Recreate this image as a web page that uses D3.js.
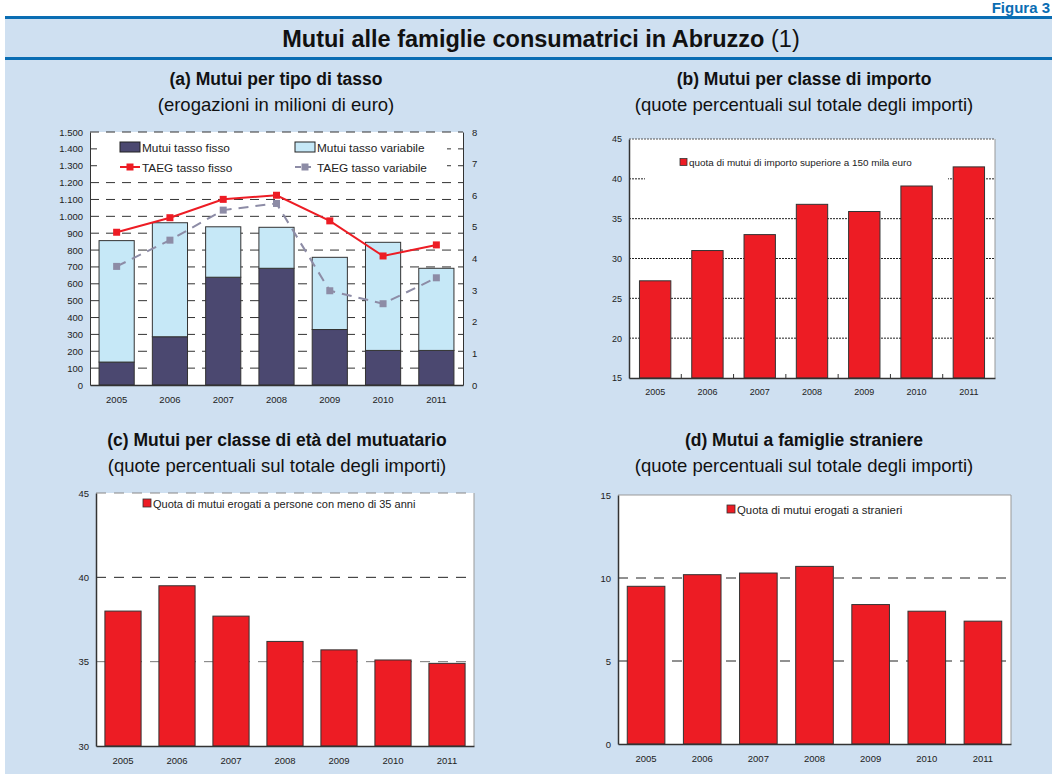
<!DOCTYPE html>
<html>
<head>
<meta charset="utf-8">
<script src="https://cdn.jsdelivr.net/npm/d3@7"></script>
<style>
  body { margin: 0; background: #fff; }
  svg { display: block; font-family: "Liberation Sans", Arial, sans-serif; }
  .tick text { fill: #222; }
</style>
</head>
<body>
<script>
// dati
var years = ["2005", "2006", "2007", "2008", "2009", "2010", "2011"];
var mutuiFisso = [136, 286, 639, 692, 329, 205, 205];
var mutuiVariabile = [720, 676, 299, 243, 428, 641, 487];
var taegFisso = [4.83, 5.29, 5.87, 6.0, 5.19, 4.08, 4.43];
var taegVariabile = [3.75, 4.58, 5.53, 5.74, 2.98, 2.57, 3.39];
var quotaImporto = [27.2, 31.0, 33.0, 36.8, 35.9, 39.1, 41.5];
var quotaGiovani = [38.0, 39.5, 37.7, 36.2, 35.7, 35.1, 34.9];
var quotaStranieri = [9.5, 10.2, 10.3, 10.7, 8.4, 8.0, 7.4];

var RED = "#ed1c24", DARK = "#4b4870", LIGHT = "#c6e8f7", GREY = "#8d8ca6", BLUE = "#0a6db3";

var svg = d3.select("body").append("svg")
    .attr("width", 1052)
    .attr("height", 774);

// sfondo
svg.append("rect").attr("x", 5).attr("y", 17).attr("width", 1047).attr("height", 757).attr("fill", "#cfe0f1");
svg.append("rect").attr("x", 5).attr("y", 16).attr("width", 1047).attr("height", 3).attr("fill", BLUE);
svg.append("rect").attr("x", 5).attr("y", 57).attr("width", 1047).attr("height", 3).attr("fill", BLUE);

svg.append("text")
    .attr("x", 1050).attr("y", 13)
    .attr("text-anchor", "end")
    .attr("font-size", 15).attr("font-weight", "bold")
    .attr("fill", BLUE)
    .text("Figura 3");

var title = svg.append("text")
    .attr("x", 541).attr("y", 47)
    .attr("text-anchor", "middle")
    .attr("font-size", 23.5)
    .attr("fill", "#111");
title.append("tspan").attr("font-weight", "bold").text("Mutui alle famiglie consumatrici in Abruzzo ");
title.append("tspan").text("(1)");

function panelTitle(cx, cy, t, sub) {
    svg.append("text").attr("x", cx).attr("y", cy)
        .attr("text-anchor", "middle").attr("font-size", 17.5).attr("font-weight", "bold")
        .attr("fill", "#111").text(t);
    svg.append("text").attr("x", cx).attr("y", cy + 26)
        .attr("text-anchor", "middle").attr("font-size", 18.5)
        .attr("fill", "#111").text(sub);
}

panelTitle(276, 85, "(a) Mutui per tipo di tasso", "(erogazioni in milioni di euro)");
panelTitle(804, 85, "(b) Mutui per classe di importo", "(quote percentuali sul totale degli importi)");
panelTitle(277, 446, "(c) Mutui per classe di età del mutuatario", "(quote percentuali sul totale degli importi)");
panelTitle(804, 446, "(d) Mutui a famiglie straniere", "(quote percentuali sul totale degli importi)");

var itFormat = d3.formatLocale({ decimal: ",", thousands: ".", grouping: [3], currency: ["", " €"] }).format(",d");

// ---------- pannello (a) ----------
(function () {
    var left = 90, right = 463, top = 132, bottom = 385;
    var g = svg.append("g");
    var x = d3.scaleBand().domain(years).range([left, right]).paddingInner(0.34).paddingOuter(0.17);
    var y = d3.scaleLinear().domain([0, 1500]).range([bottom, top]);
    var y2 = d3.scaleLinear().domain([0, 8]).range([bottom, top]);

    g.append("rect").attr("x", left).attr("y", top).attr("width", right - left).attr("height", bottom - top).attr("fill", "#fff");

    g.append("g").selectAll("line")
        .data(d3.range(100, 1501, 100))
        .enter().append("line")
        .attr("x1", left).attr("x2", right)
        .attr("y1", function (d) { return y(d); })
        .attr("y2", function (d) { return y(d); })
        .attr("stroke", "#333").attr("stroke-width", 1)
        .attr("stroke-dasharray", "9,7");

    var stack = years.map(function (yr, i) {
        return { year: yr, f: mutuiFisso[i], v: mutuiVariabile[i] };
    });

    g.append("g").selectAll("rect.fisso")
        .data(stack).enter().append("rect")
        .attr("x", function (d) { return x(d.year); })
        .attr("width", x.bandwidth())
        .attr("y", function (d) { return y(d.f); })
        .attr("height", function (d) { return y(0) - y(d.f); })
        .attr("fill", DARK).attr("stroke", "#333").attr("stroke-width", 1);

    g.append("g").selectAll("rect.var")
        .data(stack).enter().append("rect")
        .attr("x", function (d) { return x(d.year); })
        .attr("width", x.bandwidth())
        .attr("y", function (d) { return y(d.f + d.v); })
        .attr("height", function (d) { return y(d.f) - y(d.f + d.v); })
        .attr("fill", LIGHT).attr("stroke", "#333").attr("stroke-width", 1);

    // legenda (sfondo bianco sopra la griglia)
    g.append("rect").attr("x", 97).attr("y", 137).attr("width", 350).attr("height", 38).attr("fill", "#fff");

    var cx = function (d, i) { return x(years[i]) + x.bandwidth() / 2; };
    var lineF = d3.line().x(cx).y(function (d) { return y2(d); });

    g.append("path").datum(taegVariabile)
        .attr("d", lineF).attr("fill", "none")
        .attr("stroke", GREY).attr("stroke-width", 2).attr("stroke-dasharray", "10,7");
    g.append("g").selectAll("rect")
        .data(taegVariabile).enter().append("rect")
        .attr("x", function (d, i) { return cx(d, i) - 3.5; })
        .attr("y", function (d) { return y2(d) - 3.5; })
        .attr("width", 7).attr("height", 7).attr("fill", GREY);

    g.append("path").datum(taegFisso)
        .attr("d", lineF).attr("fill", "none")
        .attr("stroke", RED).attr("stroke-width", 2);
    g.append("g").selectAll("rect")
        .data(taegFisso).enter().append("rect")
        .attr("x", function (d, i) { return cx(d, i) - 3.5; })
        .attr("y", function (d) { return y2(d) - 3.5; })
        .attr("width", 7).attr("height", 7).attr("fill", RED);

    // assi
    var ax = g.append("g").attr("transform", "translate(" + left + ",0)")
        .call(d3.axisLeft(y).tickValues(d3.range(0, 1501, 100)).tickFormat(itFormat).tickSize(0).tickPadding(7));
    ax.select(".domain").attr("stroke", "#333");
    var ax2 = g.append("g").attr("transform", "translate(" + right + ",0)")
        .call(d3.axisRight(y2).ticks(8).tickSize(0).tickPadding(9));
    ax2.select(".domain").attr("stroke", "#333");
    var axb = g.append("g").attr("transform", "translate(0," + bottom + ")")
        .call(d3.axisBottom(x).tickSize(0).tickPadding(11));
    axb.select(".domain").attr("stroke", "#333").attr("stroke-width", 1.5);
    [ax, ax2, axb].forEach(function (a) { a.selectAll("text").attr("font-size", 9.5).attr("font-family", "Liberation Sans, Arial"); });

    // voci della legenda
    var leg = [
        { t: "Mutui tasso fisso", x: 120, y: 147, kind: "box", c: DARK },
        { t: "Mutui tasso variabile", x: 295, y: 147, kind: "box", c: LIGHT },
        { t: "TAEG tasso fisso", x: 120, y: 167, kind: "line", c: RED },
        { t: "TAEG tasso variabile", x: 295, y: 167, kind: "dash", c: GREY }
    ];
    leg.forEach(function (d) {
        if (d.kind === "box") {
            g.append("rect").attr("x", d.x).attr("y", d.y - 5).attr("width", 20).attr("height", 10)
                .attr("fill", d.c).attr("stroke", "#222").attr("stroke-width", 1);
        } else {
            g.append("line").attr("x1", d.x).attr("x2", d.x + 20).attr("y1", d.y).attr("y2", d.y)
                .attr("stroke", d.c).attr("stroke-width", 2)
                .attr("stroke-dasharray", d.kind === "dash" ? "6,4" : null);
            g.append("rect").attr("x", d.x + 6.5).attr("y", d.y - 3.5).attr("width", 7).attr("height", 7).attr("fill", d.c);
        }
        g.append("text").attr("x", d.x + 22).attr("y", d.y + 4.5).attr("font-size", 11.8).attr("fill", "#222").text(d.t);
    });
})();

// ---------- pannelli a barre (b), (c), (d) ----------
function barPanel(cfg) {
    var g = svg.append("g");
    var x = d3.scaleBand().domain(years).range([cfg.left, cfg.right]).paddingInner(cfg.pad).paddingOuter(cfg.pad / 2);
    var y = d3.scaleLinear().domain(cfg.domain).range([cfg.bottom, cfg.top]);

    g.append("rect").attr("x", cfg.left).attr("y", cfg.top)
        .attr("width", cfg.right - cfg.left).attr("height", cfg.bottom - cfg.top).attr("fill", "#fff");

    // bordo destro e superiore
    g.append("line").attr("x1", cfg.right).attr("x2", cfg.right).attr("y1", cfg.top).attr("y2", cfg.bottom)
        .attr("stroke", "#999");
    g.append("line").attr("x1", cfg.left).attr("x2", cfg.right).attr("y1", cfg.top).attr("y2", cfg.top)
        .attr("stroke", cfg.topColor).attr("stroke-dasharray", cfg.topDash);

    g.append("g").selectAll("line")
        .data(cfg.grid).enter().append("line")
        .attr("x1", cfg.left).attr("x2", cfg.right)
        .attr("y1", function (d) { return y(d); })
        .attr("y2", function (d) { return y(d); })
        .attr("stroke", function (d, i) { return cfg.gridColors ? cfg.gridColors[i] : "#222"; })
        .attr("stroke-dasharray", cfg.dash);

    if (cfg.box) {
        g.append("rect").attr("x", cfg.box[0]).attr("y", cfg.box[1])
            .attr("width", cfg.box[2]).attr("height", cfg.box[3]).attr("fill", "#fff");
    }

    g.append("g").selectAll("rect")
        .data(cfg.values).enter().append("rect")
        .attr("x", function (d, i) { return x(years[i]); })
        .attr("width", x.bandwidth())
        .attr("y", function (d) { return y(d); })
        .attr("height", function (d) { return y(cfg.domain[0]) - y(d); })
        .attr("fill", RED).attr("stroke", "#333").attr("stroke-width", 1);

    var ax = g.append("g").attr("transform", "translate(" + cfg.left + ",0)")
        .call(d3.axisLeft(y).tickValues(cfg.ticks).tickSize(0).tickPadding(7));
    ax.select(".domain").attr("stroke", "#333").attr("stroke-width", 1.5);

    var axb = g.append("g").attr("transform", "translate(0," + cfg.bottom + ")")
        .call(d3.axisBottom(x).tickSize(0).tickPadding(cfg.xPad));
    axb.select(".domain").attr("stroke", "#333").attr("stroke-width", 1.5);
    [ax, axb].forEach(function (a) { a.selectAll("text").attr("font-size", cfg.fs).attr("font-family", "Liberation Sans, Arial"); });

    if (cfg.innerTicks) {
        var step = x.step();
        g.append("g").selectAll("line")
            .data(years.slice(1)).enter().append("line")
            .attr("x1", function (d) { return x(d) - step * cfg.pad / 2; })
            .attr("x2", function (d) { return x(d) - step * cfg.pad / 2; })
            .attr("y1", cfg.bottom).attr("y2", cfg.bottom - 4)
            .attr("stroke", "#333");
    }

    g.append("rect").attr("x", cfg.legX).attr("y", cfg.legY - cfg.sq / 2 - 1)
        .attr("width", cfg.sq).attr("height", cfg.sq)
        .attr("fill", RED).attr("stroke", "#333").attr("stroke-width", 0.8);
    g.append("text").attr("x", cfg.legX + cfg.sq + 2).attr("y", cfg.legY + cfg.legFs * 0.35)
        .attr("font-size", cfg.legFs).attr("fill", "#222").text(cfg.legend);
}

barPanel({
    left: 629, right: 995, top: 139, bottom: 378,
    domain: [15, 45], ticks: d3.range(15, 46, 5), grid: d3.range(20, 41, 5),
    dash: "2,1", topDash: "2,1", topColor: "#555",
    values: quotaImporto, pad: 0.4, fs: 9, xPad: 11, innerTicks: true,
    box: [645, 150, 303, 36],
    legX: 680, legY: 163, sq: 7, legFs: 9.9,
    legend: "quota di mutui di importo superiore a 150 mila euro"
});

barPanel({
    left: 96, right: 474, top: 493, bottom: 746,
    domain: [30, 45], ticks: d3.range(30, 46, 5), grid: [35, 40], gridColors: ["#777", "#222"],
    dash: "10,8", topDash: "10,8", topColor: "#888",
    values: quotaGiovani, pad: 0.33, fs: 9.5, xPad: 11,
    legX: 143, legY: 504, sq: 8, legFs: 11,
    legend: "Quota di mutui erogati a persone con meno di 35 anni"
});

barPanel({
    left: 618, right: 1011, top: 495, bottom: 744,
    domain: [0, 15], ticks: d3.range(0, 16, 5), grid: [5, 10],
    dash: "10,8", topDash: null, topColor: "#999",
    values: quotaStranieri, pad: 0.33, fs: 9.5, xPad: 11,
    legX: 727, legY: 510, sq: 8, legFs: 11.4,
    legend: "Quota di mutui erogati a stranieri"
});
</script>
</body>
</html>
